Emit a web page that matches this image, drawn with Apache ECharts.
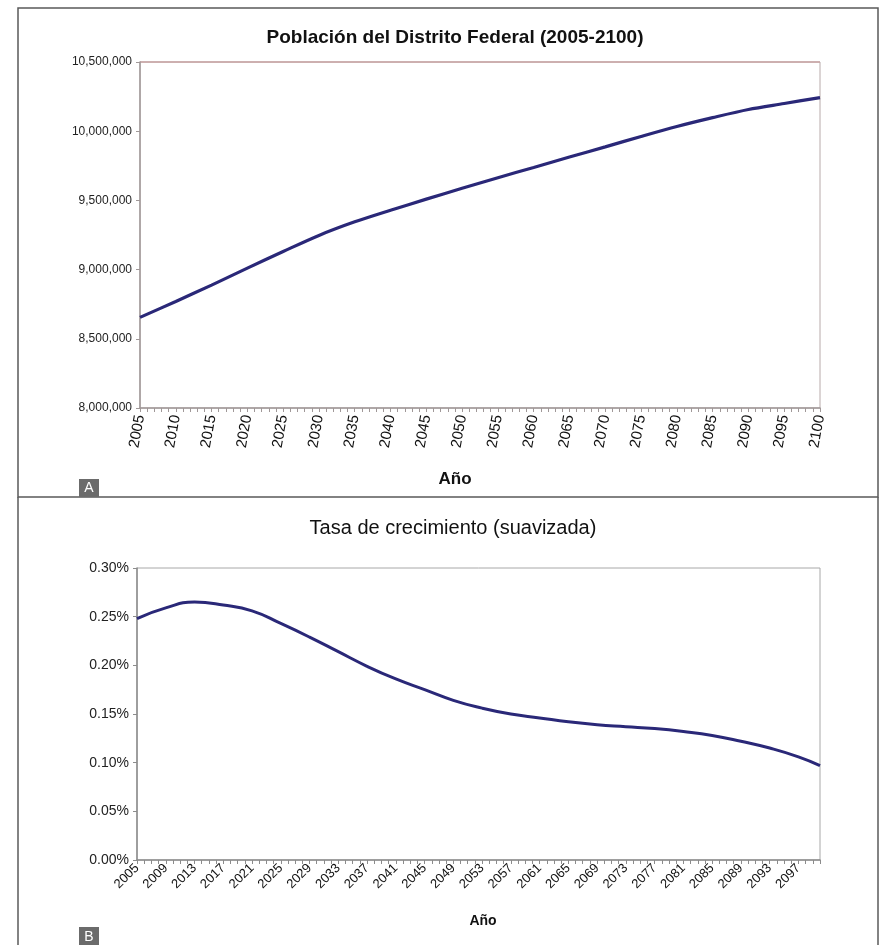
<!DOCTYPE html>
<html>
<head>
<meta charset="utf-8">
<style>
  html, body { margin: 0; padding: 0; background: #fff; }
  #chart { width: 886px; height: 945px; }
</style>
<script src="https://cdn.jsdelivr.net/npm/echarts@6/dist/echarts.min.js"></script>
</head>
<body>
<div id="chart"></div>
<script>
// Población del Distrito Federal, 2005-2100 (habitantes)
const popYears = [2005, 2010, 2015, 2020, 2025, 2030, 2035, 2040, 2045, 2050,
                  2055, 2060, 2065, 2070, 2075, 2080, 2085, 2090, 2095, 2100];
const popValues = [8655000, 8770000, 8888000, 9011000, 9131000, 9247000, 9345000, 9429000, 9509000, 9588000,
                   9664000, 9738000, 9813000, 9887000, 9962000, 10034000, 10098000, 10157000, 10200000, 10243000];

// Tasa de crecimiento suavizada (%)
const rateYears = [2005, 2009, 2013, 2017, 2021, 2025, 2029, 2033, 2037, 2041, 2045, 2049, 2053,
                   2057, 2061, 2065, 2069, 2073, 2077, 2081, 2085, 2089, 2093, 2097, 2100];
const rateValues = [0.248, 0.259, 0.265, 0.262, 0.256, 0.243, 0.229, 0.214, 0.199, 0.186, 0.175, 0.164, 0.156,
                    0.150, 0.146, 0.142, 0.139, 0.137, 0.135, 0.132, 0.128, 0.122, 0.115, 0.106, 0.097];

// Year categories shared by both horizontal axes (one tick per year)
const yearCategories = [];
for (let y = 2005; y <= 2100; y++) yearCategories.push(String(y));

const FONT = 'Liberation Sans, Arial, sans-serif';
const LINE_COLOR = '#2a2878';

const chart = echarts.init(document.getElementById('chart'), null, { renderer: 'canvas' });

const fmtThousands = v => String(v).replace(/\B(?=(\d{3})+(?!\d))/g, ',');

chart.setOption({
  backgroundColor: '#ffffff',
  animation: false,
  title: [
    { text: 'Población del Distrito Federal (2005-2100)', left: 450, top: 23, textAlign: 'center',
      textStyle: { fontFamily: FONT, fontSize: 19, fontWeight: 'bold', color: '#111' } },
    { text: 'Año', left: 450, top: 466, textAlign: 'center',
      textStyle: { fontFamily: FONT, fontSize: 17, fontWeight: 'bold', color: '#111' } },
    { text: 'Tasa de crecimiento (suavizada)', left: 448, top: 513, textAlign: 'center',
      textStyle: { fontFamily: FONT, fontSize: 20, fontWeight: 'normal', color: '#111' } },
    { text: 'Año', left: 478, top: 909, textAlign: 'center',
      textStyle: { fontFamily: FONT, fontSize: 14, fontWeight: 'bold', color: '#111' } }
  ],
  grid: [
    { left: 140, right: 66, top: 62, height: 346, show: true, borderColor: '#b8aaaa', borderWidth: 1 },
    { left: 137, right: 66, top: 568, height: 292, show: true, borderColor: '#a8a8a8', borderWidth: 1 }
  ],
  xAxis: [
    {
      gridIndex: 0, type: 'category', data: yearCategories, boundaryGap: false,
      axisLine: { lineStyle: { color: '#a09898', width: 1.5 } },
      axisTick: { interval: 0, length: 4, lineStyle: { color: '#a09898' } },
      axisLabel: { interval: 4, rotate: 80, fontFamily: FONT, fontSize: 15, color: '#111', margin: 7 },
      splitLine: { show: false }
    },
    {
      gridIndex: 1, type: 'category', data: yearCategories, boundaryGap: false,
      axisLine: { lineStyle: { color: '#8c8c8c', width: 1.5 } },
      axisTick: { interval: 0, length: 4, lineStyle: { color: '#8c8c8c' } },
      axisLabel: { interval: 3, rotate: 45, fontFamily: FONT, fontSize: 13, color: '#111', margin: 6 },
      splitLine: { show: false }
    }
  ],
  yAxis: [
    {
      gridIndex: 0, type: 'value', min: 8000000, max: 10500000, interval: 500000,
      axisLine: { show: true, lineStyle: { color: '#a09898', width: 1.5 } },
      axisTick: { show: true, length: 4, lineStyle: { color: '#a09898' } },
      axisLabel: { fontFamily: FONT, fontSize: 12, color: '#222', margin: 8, formatter: fmtThousands },
      splitLine: { show: false }
    },
    {
      gridIndex: 1, type: 'value', min: 0, max: 0.30, interval: 0.05,
      axisLine: { show: true, lineStyle: { color: '#8c8c8c', width: 1.5 } },
      axisTick: { show: true, length: 4, lineStyle: { color: '#8c8c8c' } },
      axisLabel: { fontFamily: FONT, fontSize: 14, color: '#222', margin: 8,
                   formatter: v => v.toFixed(2) + '%' },
      splitLine: { show: false }
    }
  ],
  series: [
    {
      type: 'line', xAxisIndex: 0, yAxisIndex: 0, smooth: 0.3, symbol: 'none',
      lineStyle: { color: LINE_COLOR, width: 3.2 },
      data: popYears.map((y, i) => [String(y), popValues[i]])
    },
    {
      type: 'line', xAxisIndex: 1, yAxisIndex: 1, smooth: true, symbol: 'none',
      lineStyle: { color: LINE_COLOR, width: 3 },
      data: rateYears.map((y, i) => [String(y), rateValues[i]])
    }
  ],
  graphic: [
    // panel frames
    { type: 'rect', shape: { x: 18, y: 8, width: 860, height: 489 },
      style: { fill: 'none', stroke: '#5a5a5a', lineWidth: 1.5 }, silent: true },
    { type: 'polyline', shape: { points: [[18, 497], [18, 945]] },
      style: { stroke: '#5a5a5a', lineWidth: 1.5 }, silent: true },
    { type: 'polyline', shape: { points: [[878, 497], [878, 945]] },
      style: { stroke: '#5a5a5a', lineWidth: 1.5 }, silent: true },
    // top border of the upper plot area
    { type: 'polyline', shape: { points: [[140, 62], [820, 62]] },
      style: { stroke: '#c9a3a3', lineWidth: 1.5 }, silent: true },
    // panel tags
    { type: 'rect', shape: { x: 79, y: 479, width: 20, height: 18 },
      style: { fill: '#6b6b6b' }, silent: true },
    { type: 'text', x: 89, y: 488, style: { text: 'A', fill: '#fff', font: '14px ' + FONT,
      align: 'center', verticalAlign: 'middle' }, silent: true },
    { type: 'rect', shape: { x: 79, y: 927, width: 20, height: 18 },
      style: { fill: '#6b6b6b' }, silent: true },
    { type: 'text', x: 89, y: 937, style: { text: 'B', fill: '#fff', font: '14px ' + FONT,
      align: 'center', verticalAlign: 'middle' }, silent: true }
  ]
});
</script>
</body>
</html>
